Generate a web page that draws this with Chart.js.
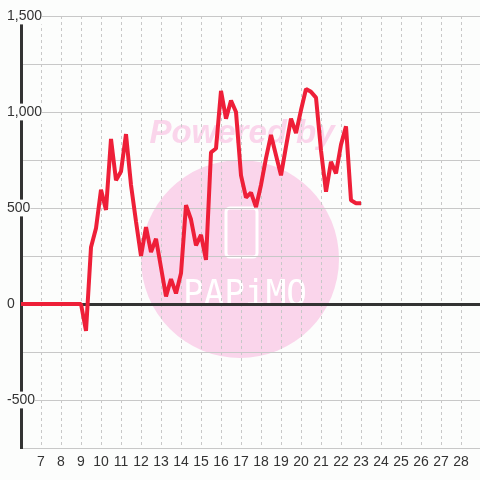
<!DOCTYPE html>
<html>
<head>
<meta charset="utf-8">
<script src="https://cdn.jsdelivr.net/npm/chart.js@4.4.1/dist/chart.umd.min.js"></script>
<style>
    html, body { margin: 0; padding: 0; background: #fcfdfc; }
    #wrap { width: 480px; height: 480px; }
</style>
</head>
<body>
<div id="wrap"><canvas id="chart" width="480" height="480"></canvas></div>
<script>
// Day axis (quarter-day samples) and the plotted series.
const days = [
    6, 6.25, 6.5, 6.75, 7, 7.25, 7.5, 7.75, 8, 8.25, 8.5, 8.75, 9,
    9.25, 9.5, 9.75, 10, 10.25, 10.5, 10.75, 11, 11.25, 11.5, 11.75,
    12, 12.25, 12.5, 12.75, 13, 13.25, 13.5, 13.75, 14, 14.25, 14.5, 14.75,
    15, 15.25, 15.5, 15.75, 16, 16.25, 16.5, 16.75, 17, 17.25, 17.5, 17.75,
    18, 18.25, 18.5, 18.75, 19, 19.25, 19.5, 19.75, 20, 20.25, 20.5, 20.75,
    21, 21.25, 21.5, 21.75, 22, 22.25, 22.5, 22.75, 23
];
const values = [
    0, 0, 0, 0, 0, 0, 0, 0, 0, 0, 0, 0, 0,
    -140, 295, 395, 595, 490, 860, 645, 690, 885, 620, 430,
    250, 400, 270, 340, 190, 40, 130, 55, 160, 515, 440, 305,
    360, 230, 790, 810, 1110, 965, 1060, 1000, 670, 555, 580, 505,
    620, 760, 880, 775, 670, 820, 965, 890, 1010, 1120, 1105, 1075,
    800, 585, 740, 680, 830, 925, 540, 525, 525
];
const dayTicks = [7, 8, 9, 10, 11, 12, 13, 14, 15, 16, 17, 18, 19, 20, 21, 22, 23, 24, 25, 26, 27, 28];
const yLabelValues = [1500, 1000, 500, 0, -500];

const BG = "#fcfdfc";
const INK = "#333";
const GRID = "#c8c8c8";

Chart.defaults.font.family = "'Liberation Sans', Arial, sans-serif";
Chart.defaults.font.size = 14;
Chart.defaults.color = INK;

// "Powered by" logo sitting behind the grid.
const watermark = {
    id: "watermark",
    beforeDraw(chart) {
        const ctx = chart.ctx;
        ctx.save();
        ctx.fillStyle = "#fad5eb";
        ctx.beginPath();
        ctx.arc(240, 259, 99, 0, Math.PI * 2);
        ctx.fill();
        ctx.font = "italic bold 33px 'Liberation Sans', Arial, sans-serif";
        ctx.textAlign = "center";
        ctx.textBaseline = "alphabetic";
        ctx.fillText("Powered by", 242, 143, 190);
        ctx.strokeStyle = "#fff";
        ctx.lineWidth = 3;
        ctx.beginPath();
        ctx.roundRect(226, 208, 31, 49, 4);
        ctx.stroke();
        ctx.fillStyle = "#fff";
        ctx.font = "36px 'DejaVu Sans Mono', monospace";
        ctx.fillText("PAPiMO", 245, 305, 124);
        ctx.restore();
    },
};

new Chart(document.getElementById("chart"), {
    type: "line",
    data: {
        datasets: [{
            data: days.map((d, i) => ({ x: d, y: values[i] })),
            borderColor: "#ee1f38",
            borderWidth: 4,
            borderJoinStyle: "bevel",
            pointRadius: 0,
            tension: 0,
            fill: false,
        }],
    },
    options: {
        responsive: false,
        animation: false,
        devicePixelRatio: 1,
        layout: { padding: { left: 7, top: 16, right: 0, bottom: 0 } },
        plugins: {
            legend: { display: false },
            tooltip: { enabled: false },
        },
        scales: {
            x: {
                type: "linear",
                min: 6,
                max: 28.95,
                afterBuildTicks: scale => {
                    scale.ticks = dayTicks.map(v => ({ value: v }));
                },
                afterFit: scale => { scale.height = 32; },
                ticks: {
                    autoSkip: false,
                    maxRotation: 0,
                    padding: 6,
                    callback: v => String(v),
                },
                grid: { color: GRID, lineWidth: 1, drawTicks: false },
                border: { display: false, dash: [3, 3] },
            },
            y: {
                min: -750,
                max: 1500,
                afterFit: scale => { scale.width = 14; },
                ticks: {
                    stepSize: 250,
                    // mirrored so the labels are not clipped to the narrow axis box;
                    // negative padding pulls them back to the left of the axis line
                    mirror: true,
                    padding: -14,
                    showLabelBackdrop: true,
                    backdropColor: BG,
                    backdropPadding: 0,
                    callback: v => yLabelValues.includes(v) ? v.toLocaleString("en-US") : "",
                },
                grid: {
                    drawTicks: false,
                    color: c => c.tick && c.tick.value === 0 ? INK : GRID,
                    lineWidth: c => c.tick && c.tick.value === 0 ? 3 : 1,
                },
                border: { display: true, color: INK, width: 3 },
            },
        },
    },
    plugins: [watermark],
});
</script>
</body>
</html>
